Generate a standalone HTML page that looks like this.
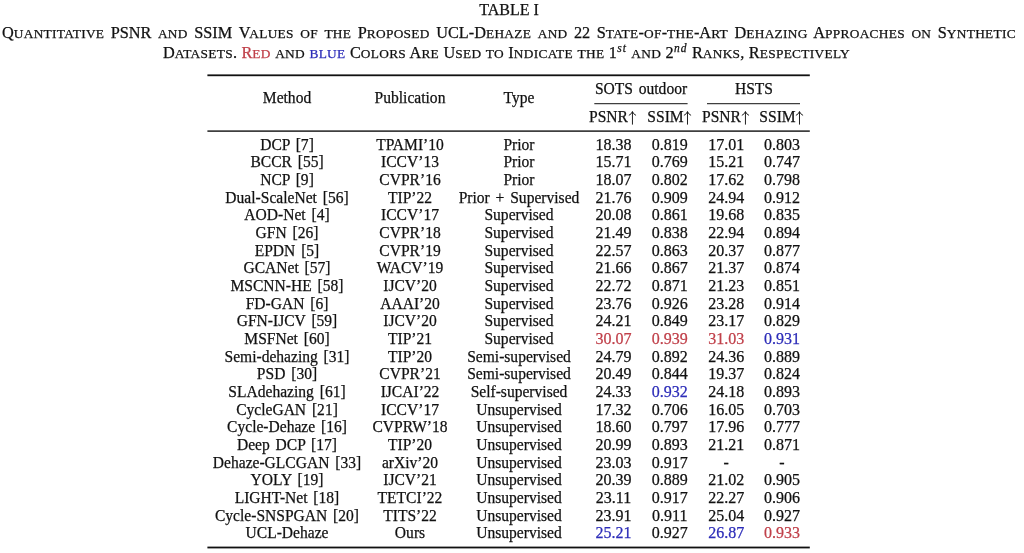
<!DOCTYPE html>
<html><head><meta charset="utf-8"><style>
html,body{margin:0;padding:0;background:#fff;width:1024px;height:553px;overflow:hidden;position:relative}
#w{position:absolute;left:0;top:0;width:1024px;height:553px;filter:blur(0.45px)}
.t{position:absolute;font-family:"Liberation Serif",serif;font-size:16px;line-height:20px;text-align:center;white-space:nowrap;color:#111;-webkit-text-stroke:0.25px}
.tb{word-spacing:2.0px}
.ar{display:inline-block;vertical-align:-2.6px;margin-left:-0.8px}
.cap{font-size:16.3px}
.sm{font-size:13.37px;letter-spacing:0.3px}
sup{font-style:italic;font-size:11.5px;line-height:0;vertical-align:6px;letter-spacing:1.0px;margin-left:0.3px}
</style></head><body><div id="w">
<div class="t tb" style="left:137.00px;top:134.80px;width:300px;transform:scaleX(0.972)">DCP [7]</div>
<div class="t tb" style="left:260.00px;top:134.80px;width:300px;transform:scaleX(0.972)">TPAMI’10</div>
<div class="t tb" style="left:369.00px;top:134.80px;width:300px;transform:scaleX(0.972)">Prior</div>
<div class="t tb" style="left:463.50px;top:134.80px;width:300px">18.38</div>
<div class="t tb" style="left:519.80px;top:134.80px;width:300px">0.819</div>
<div class="t tb" style="left:576.20px;top:134.80px;width:300px">17.01</div>
<div class="t tb" style="left:631.90px;top:134.80px;width:300px">0.803</div>
<div class="t tb" style="left:137.00px;top:152.46px;width:300px;transform:scaleX(0.972)">BCCR [55]</div>
<div class="t tb" style="left:260.00px;top:152.46px;width:300px;transform:scaleX(0.972)">ICCV’13</div>
<div class="t tb" style="left:369.00px;top:152.46px;width:300px;transform:scaleX(0.972)">Prior</div>
<div class="t tb" style="left:463.50px;top:152.46px;width:300px">15.71</div>
<div class="t tb" style="left:519.80px;top:152.46px;width:300px">0.769</div>
<div class="t tb" style="left:576.20px;top:152.46px;width:300px">15.21</div>
<div class="t tb" style="left:631.90px;top:152.46px;width:300px">0.747</div>
<div class="t tb" style="left:137.00px;top:170.13px;width:300px;transform:scaleX(0.972)">NCP [9]</div>
<div class="t tb" style="left:260.00px;top:170.13px;width:300px;transform:scaleX(0.972)">CVPR’16</div>
<div class="t tb" style="left:369.00px;top:170.13px;width:300px;transform:scaleX(0.972)">Prior</div>
<div class="t tb" style="left:463.50px;top:170.13px;width:300px">18.07</div>
<div class="t tb" style="left:519.80px;top:170.13px;width:300px">0.802</div>
<div class="t tb" style="left:576.20px;top:170.13px;width:300px">17.62</div>
<div class="t tb" style="left:631.90px;top:170.13px;width:300px">0.798</div>
<div class="t tb" style="left:137.00px;top:187.79px;width:300px;transform:scaleX(0.972)">Dual-ScaleNet [56]</div>
<div class="t tb" style="left:260.00px;top:187.79px;width:300px;transform:scaleX(0.972)">TIP’22</div>
<div class="t tb" style="left:369.00px;top:187.79px;width:300px;transform:scaleX(0.972)">Prior + Supervised</div>
<div class="t tb" style="left:463.50px;top:187.79px;width:300px">21.76</div>
<div class="t tb" style="left:519.80px;top:187.79px;width:300px">0.909</div>
<div class="t tb" style="left:576.20px;top:187.79px;width:300px">24.94</div>
<div class="t tb" style="left:631.90px;top:187.79px;width:300px">0.912</div>
<div class="t tb" style="left:137.00px;top:205.46px;width:300px;transform:scaleX(0.972)">AOD-Net [4]</div>
<div class="t tb" style="left:260.00px;top:205.46px;width:300px;transform:scaleX(0.972)">ICCV’17</div>
<div class="t tb" style="left:369.00px;top:205.46px;width:300px;transform:scaleX(0.972)">Supervised</div>
<div class="t tb" style="left:463.50px;top:205.46px;width:300px">20.08</div>
<div class="t tb" style="left:519.80px;top:205.46px;width:300px">0.861</div>
<div class="t tb" style="left:576.20px;top:205.46px;width:300px">19.68</div>
<div class="t tb" style="left:631.90px;top:205.46px;width:300px">0.835</div>
<div class="t tb" style="left:137.00px;top:223.12px;width:300px;transform:scaleX(0.972)">GFN [26]</div>
<div class="t tb" style="left:260.00px;top:223.12px;width:300px;transform:scaleX(0.972)">CVPR’18</div>
<div class="t tb" style="left:369.00px;top:223.12px;width:300px;transform:scaleX(0.972)">Supervised</div>
<div class="t tb" style="left:463.50px;top:223.12px;width:300px">21.49</div>
<div class="t tb" style="left:519.80px;top:223.12px;width:300px">0.838</div>
<div class="t tb" style="left:576.20px;top:223.12px;width:300px">22.94</div>
<div class="t tb" style="left:631.90px;top:223.12px;width:300px">0.894</div>
<div class="t tb" style="left:137.00px;top:240.79px;width:300px;transform:scaleX(0.972)">EPDN [5]</div>
<div class="t tb" style="left:260.00px;top:240.79px;width:300px;transform:scaleX(0.972)">CVPR’19</div>
<div class="t tb" style="left:369.00px;top:240.79px;width:300px;transform:scaleX(0.972)">Supervised</div>
<div class="t tb" style="left:463.50px;top:240.79px;width:300px">22.57</div>
<div class="t tb" style="left:519.80px;top:240.79px;width:300px">0.863</div>
<div class="t tb" style="left:576.20px;top:240.79px;width:300px">20.37</div>
<div class="t tb" style="left:631.90px;top:240.79px;width:300px">0.877</div>
<div class="t tb" style="left:137.00px;top:258.46px;width:300px;transform:scaleX(0.972)">GCANet [57]</div>
<div class="t tb" style="left:260.00px;top:258.46px;width:300px;transform:scaleX(0.972)">WACV’19</div>
<div class="t tb" style="left:369.00px;top:258.46px;width:300px;transform:scaleX(0.972)">Supervised</div>
<div class="t tb" style="left:463.50px;top:258.46px;width:300px">21.66</div>
<div class="t tb" style="left:519.80px;top:258.46px;width:300px">0.867</div>
<div class="t tb" style="left:576.20px;top:258.46px;width:300px">21.37</div>
<div class="t tb" style="left:631.90px;top:258.46px;width:300px">0.874</div>
<div class="t tb" style="left:137.00px;top:276.12px;width:300px;transform:scaleX(0.972)">MSCNN-HE [58]</div>
<div class="t tb" style="left:260.00px;top:276.12px;width:300px;transform:scaleX(0.972)">IJCV’20</div>
<div class="t tb" style="left:369.00px;top:276.12px;width:300px;transform:scaleX(0.972)">Supervised</div>
<div class="t tb" style="left:463.50px;top:276.12px;width:300px">22.72</div>
<div class="t tb" style="left:519.80px;top:276.12px;width:300px">0.871</div>
<div class="t tb" style="left:576.20px;top:276.12px;width:300px">21.23</div>
<div class="t tb" style="left:631.90px;top:276.12px;width:300px">0.851</div>
<div class="t tb" style="left:137.00px;top:293.78px;width:300px;transform:scaleX(0.972)">FD-GAN [6]</div>
<div class="t tb" style="left:260.00px;top:293.78px;width:300px;transform:scaleX(0.972)">AAAI’20</div>
<div class="t tb" style="left:369.00px;top:293.78px;width:300px;transform:scaleX(0.972)">Supervised</div>
<div class="t tb" style="left:463.50px;top:293.78px;width:300px">23.76</div>
<div class="t tb" style="left:519.80px;top:293.78px;width:300px">0.926</div>
<div class="t tb" style="left:576.20px;top:293.78px;width:300px">23.28</div>
<div class="t tb" style="left:631.90px;top:293.78px;width:300px">0.914</div>
<div class="t tb" style="left:137.00px;top:311.45px;width:300px;transform:scaleX(0.972)">GFN-IJCV [59]</div>
<div class="t tb" style="left:260.00px;top:311.45px;width:300px;transform:scaleX(0.972)">IJCV’20</div>
<div class="t tb" style="left:369.00px;top:311.45px;width:300px;transform:scaleX(0.972)">Supervised</div>
<div class="t tb" style="left:463.50px;top:311.45px;width:300px">24.21</div>
<div class="t tb" style="left:519.80px;top:311.45px;width:300px">0.849</div>
<div class="t tb" style="left:576.20px;top:311.45px;width:300px">23.17</div>
<div class="t tb" style="left:631.90px;top:311.45px;width:300px">0.829</div>
<div class="t tb" style="left:137.00px;top:329.12px;width:300px;transform:scaleX(0.972)">MSFNet [60]</div>
<div class="t tb" style="left:260.00px;top:329.12px;width:300px;transform:scaleX(0.972)">TIP’21</div>
<div class="t tb" style="left:369.00px;top:329.12px;width:300px;transform:scaleX(0.972)">Supervised</div>
<div class="t tb" style="left:463.50px;top:329.12px;width:300px;color:#c0404a">30.07</div>
<div class="t tb" style="left:519.80px;top:329.12px;width:300px;color:#c0404a">0.939</div>
<div class="t tb" style="left:576.20px;top:329.12px;width:300px;color:#c0404a">31.03</div>
<div class="t tb" style="left:631.90px;top:329.12px;width:300px;color:#2c2cb8">0.931</div>
<div class="t tb" style="left:137.00px;top:346.78px;width:300px;transform:scaleX(0.972)">Semi-dehazing [31]</div>
<div class="t tb" style="left:260.00px;top:346.78px;width:300px;transform:scaleX(0.972)">TIP’20</div>
<div class="t tb" style="left:369.00px;top:346.78px;width:300px;transform:scaleX(0.972)">Semi-supervised</div>
<div class="t tb" style="left:463.50px;top:346.78px;width:300px">24.79</div>
<div class="t tb" style="left:519.80px;top:346.78px;width:300px">0.892</div>
<div class="t tb" style="left:576.20px;top:346.78px;width:300px">24.36</div>
<div class="t tb" style="left:631.90px;top:346.78px;width:300px">0.889</div>
<div class="t tb" style="left:137.00px;top:364.44px;width:300px;transform:scaleX(0.972)">PSD [30]</div>
<div class="t tb" style="left:260.00px;top:364.44px;width:300px;transform:scaleX(0.972)">CVPR’21</div>
<div class="t tb" style="left:369.00px;top:364.44px;width:300px;transform:scaleX(0.972)">Semi-supervised</div>
<div class="t tb" style="left:463.50px;top:364.44px;width:300px">20.49</div>
<div class="t tb" style="left:519.80px;top:364.44px;width:300px">0.844</div>
<div class="t tb" style="left:576.20px;top:364.44px;width:300px">19.37</div>
<div class="t tb" style="left:631.90px;top:364.44px;width:300px">0.824</div>
<div class="t tb" style="left:137.00px;top:382.11px;width:300px;transform:scaleX(0.972)">SLAdehazing [61]</div>
<div class="t tb" style="left:260.00px;top:382.11px;width:300px;transform:scaleX(0.972)">IJCAI’22</div>
<div class="t tb" style="left:369.00px;top:382.11px;width:300px;transform:scaleX(0.972)">Self-supervised</div>
<div class="t tb" style="left:463.50px;top:382.11px;width:300px">24.33</div>
<div class="t tb" style="left:519.80px;top:382.11px;width:300px;color:#2c2cb8">0.932</div>
<div class="t tb" style="left:576.20px;top:382.11px;width:300px">24.18</div>
<div class="t tb" style="left:631.90px;top:382.11px;width:300px">0.893</div>
<div class="t tb" style="left:137.00px;top:399.77px;width:300px;transform:scaleX(0.972)">CycleGAN [21]</div>
<div class="t tb" style="left:260.00px;top:399.77px;width:300px;transform:scaleX(0.972)">ICCV’17</div>
<div class="t tb" style="left:369.00px;top:399.77px;width:300px;transform:scaleX(0.972)">Unsupervised</div>
<div class="t tb" style="left:463.50px;top:399.77px;width:300px">17.32</div>
<div class="t tb" style="left:519.80px;top:399.77px;width:300px">0.706</div>
<div class="t tb" style="left:576.20px;top:399.77px;width:300px">16.05</div>
<div class="t tb" style="left:631.90px;top:399.77px;width:300px">0.703</div>
<div class="t tb" style="left:137.00px;top:417.44px;width:300px;transform:scaleX(0.972)">Cycle-Dehaze [16]</div>
<div class="t tb" style="left:260.00px;top:417.44px;width:300px;transform:scaleX(0.972)">CVPRW’18</div>
<div class="t tb" style="left:369.00px;top:417.44px;width:300px;transform:scaleX(0.972)">Unsupervised</div>
<div class="t tb" style="left:463.50px;top:417.44px;width:300px">18.60</div>
<div class="t tb" style="left:519.80px;top:417.44px;width:300px">0.797</div>
<div class="t tb" style="left:576.20px;top:417.44px;width:300px">17.96</div>
<div class="t tb" style="left:631.90px;top:417.44px;width:300px">0.777</div>
<div class="t tb" style="left:137.00px;top:435.11px;width:300px;transform:scaleX(0.972)">Deep DCP [17]</div>
<div class="t tb" style="left:260.00px;top:435.11px;width:300px;transform:scaleX(0.972)">TIP’20</div>
<div class="t tb" style="left:369.00px;top:435.11px;width:300px;transform:scaleX(0.972)">Unsupervised</div>
<div class="t tb" style="left:463.50px;top:435.11px;width:300px">20.99</div>
<div class="t tb" style="left:519.80px;top:435.11px;width:300px">0.893</div>
<div class="t tb" style="left:576.20px;top:435.11px;width:300px">21.21</div>
<div class="t tb" style="left:631.90px;top:435.11px;width:300px">0.871</div>
<div class="t tb" style="left:137.00px;top:452.77px;width:300px;transform:scaleX(0.972)">Dehaze-GLCGAN [33]</div>
<div class="t tb" style="left:260.00px;top:452.77px;width:300px;transform:scaleX(0.972)">arXiv’20</div>
<div class="t tb" style="left:369.00px;top:452.77px;width:300px;transform:scaleX(0.972)">Unsupervised</div>
<div class="t tb" style="left:463.50px;top:452.77px;width:300px">23.03</div>
<div class="t tb" style="left:519.80px;top:452.77px;width:300px">0.917</div>
<div class="t tb" style="left:576.20px;top:452.77px;width:300px">-</div>
<div class="t tb" style="left:631.90px;top:452.77px;width:300px">-</div>
<div class="t tb" style="left:137.00px;top:470.44px;width:300px;transform:scaleX(0.972)">YOLY [19]</div>
<div class="t tb" style="left:260.00px;top:470.44px;width:300px;transform:scaleX(0.972)">IJCV’21</div>
<div class="t tb" style="left:369.00px;top:470.44px;width:300px;transform:scaleX(0.972)">Unsupervised</div>
<div class="t tb" style="left:463.50px;top:470.44px;width:300px">20.39</div>
<div class="t tb" style="left:519.80px;top:470.44px;width:300px">0.889</div>
<div class="t tb" style="left:576.20px;top:470.44px;width:300px">21.02</div>
<div class="t tb" style="left:631.90px;top:470.44px;width:300px">0.905</div>
<div class="t tb" style="left:137.00px;top:488.10px;width:300px;transform:scaleX(0.972)">LIGHT-Net [18]</div>
<div class="t tb" style="left:260.00px;top:488.10px;width:300px;transform:scaleX(0.972)">TETCI’22</div>
<div class="t tb" style="left:369.00px;top:488.10px;width:300px;transform:scaleX(0.972)">Unsupervised</div>
<div class="t tb" style="left:463.50px;top:488.10px;width:300px">23.11</div>
<div class="t tb" style="left:519.80px;top:488.10px;width:300px">0.917</div>
<div class="t tb" style="left:576.20px;top:488.10px;width:300px">22.27</div>
<div class="t tb" style="left:631.90px;top:488.10px;width:300px">0.906</div>
<div class="t tb" style="left:137.00px;top:505.76px;width:300px;transform:scaleX(0.972)">Cycle-SNSPGAN [20]</div>
<div class="t tb" style="left:260.00px;top:505.76px;width:300px;transform:scaleX(0.972)">TITS’22</div>
<div class="t tb" style="left:369.00px;top:505.76px;width:300px;transform:scaleX(0.972)">Unsupervised</div>
<div class="t tb" style="left:463.50px;top:505.76px;width:300px">23.91</div>
<div class="t tb" style="left:519.80px;top:505.76px;width:300px">0.911</div>
<div class="t tb" style="left:576.20px;top:505.76px;width:300px">25.04</div>
<div class="t tb" style="left:631.90px;top:505.76px;width:300px">0.927</div>
<div class="t tb" style="left:137.00px;top:523.43px;width:300px;transform:scaleX(0.972)">UCL-Dehaze</div>
<div class="t tb" style="left:260.00px;top:523.43px;width:300px;transform:scaleX(0.972)">Ours</div>
<div class="t tb" style="left:369.00px;top:523.43px;width:300px;transform:scaleX(0.972)">Unsupervised</div>
<div class="t tb" style="left:463.50px;top:523.43px;width:300px;color:#2c2cb8">25.21</div>
<div class="t tb" style="left:519.80px;top:523.43px;width:300px">0.927</div>
<div class="t tb" style="left:576.20px;top:523.43px;width:300px;color:#2c2cb8">26.87</div>
<div class="t tb" style="left:631.90px;top:523.43px;width:300px;color:#c0404a">0.933</div>
<div class="t tb" style="left:137.00px;top:87.60px;width:300px;transform:scaleX(0.972)">Method</div>
<div class="t tb" style="left:260.00px;top:87.60px;width:300px;transform:scaleX(0.972)">Publication</div>
<div class="t tb" style="left:369.00px;top:87.60px;width:300px;transform:scaleX(0.972)">Type</div>
<div class="t tb" style="left:490.95px;top:78.60px;width:300px;transform:scaleX(0.972)">SOTS outdoor</div>
<div class="t tb" style="left:603.50px;top:78.60px;width:300px;transform:scaleX(0.972)">HSTS</div>
<div class="t tb" style="left:463.30px;top:107.00px;width:300px;transform:scaleX(0.972)">PSNR<svg class="ar" width="10" height="14" viewBox="0 0 10 14"><path d="M5 0.6V13.6M5 0.6Q4.2 3 1.3 4.4M5 0.6Q5.8 3 8.7 4.4" fill="none" stroke="#111" stroke-width="0.95"/></svg></div>
<div class="t tb" style="left:519.60px;top:107.00px;width:300px;transform:scaleX(0.972)">SSIM<svg class="ar" width="10" height="14" viewBox="0 0 10 14"><path d="M5 0.6V13.6M5 0.6Q4.2 3 1.3 4.4M5 0.6Q5.8 3 8.7 4.4" fill="none" stroke="#111" stroke-width="0.95"/></svg></div>
<div class="t tb" style="left:576.00px;top:107.00px;width:300px;transform:scaleX(0.972)">PSNR<svg class="ar" width="10" height="14" viewBox="0 0 10 14"><path d="M5 0.6V13.6M5 0.6Q4.2 3 1.3 4.4M5 0.6Q5.8 3 8.7 4.4" fill="none" stroke="#111" stroke-width="0.95"/></svg></div>
<div class="t tb" style="left:631.70px;top:107.00px;width:300px;transform:scaleX(0.972)">SSIM<svg class="ar" width="10" height="14" viewBox="0 0 10 14"><path d="M5 0.6V13.6M5 0.6Q4.2 3 1.3 4.4M5 0.6Q5.8 3 8.7 4.4" fill="none" stroke="#111" stroke-width="0.95"/></svg></div>
<svg style="position:absolute;left:0;top:0" width="1024" height="553"><rect x="207.40" y="74.40" width="602.40" height="1.80" fill="#111"/><rect x="594.30" y="103.20" width="93.30" height="1.00" fill="#111"/><rect x="707.00" y="103.20" width="93.00" height="1.00" fill="#111"/><rect x="207.40" y="130.40" width="602.40" height="1.40" fill="#111"/><rect x="207.40" y="546.60" width="602.40" height="1.80" fill="#111"/></svg>
<div class="t " style="left:309.00px;top:0.20px;width:400px">TABLE I</div>
<div id="c1" class="t cap" style="left:2px;top:23.20px;width:1014px;text-align:justify;text-align-last:justify">Q<span class="sm">UANTITATIVE</span> PSNR <span class="sm">AND</span> SSIM <span style="letter-spacing:-1.2px">V</span><span class="sm">ALUES</span> <span class="sm">OF</span> <span class="sm">THE</span> P<span class="sm">ROPOSED</span> UCL-D<span class="sm">EHAZE</span> <span class="sm">AND</span> 22 S<span class="sm">TATE</span>-<span class="sm">OF</span>-<span class="sm">THE</span>-A<span class="sm">RT</span> D<span class="sm">EHAZING</span> A<span class="sm">PPROACHES</span> <span class="sm">ON</span> S<span class="sm">YNTHETIC</span></div>
<div id="c2" class="t cap" style="left:163px;top:43.00px;width:687px;text-align:justify;text-align-last:justify">D<span class="sm">ATASETS</span>. <span style="color:#c0404a">R<span class="sm">ED</span></span> <span class="sm">AND</span> <span style="color:#2c2cb8"><span class="sm">BLUE</span></span> C<span class="sm">OLORS</span> A<span class="sm">RE</span> U<span class="sm">SED</span> <span class="sm">TO</span> I<span class="sm">NDICATE</span> <span class="sm">THE</span> 1<sup>st</sup> <span class="sm">AND</span> 2<sup>nd</sup> R<span class="sm">ANKS</span>, R<span class="sm">ESPECTIVELY</span></div>
</div></body></html>
